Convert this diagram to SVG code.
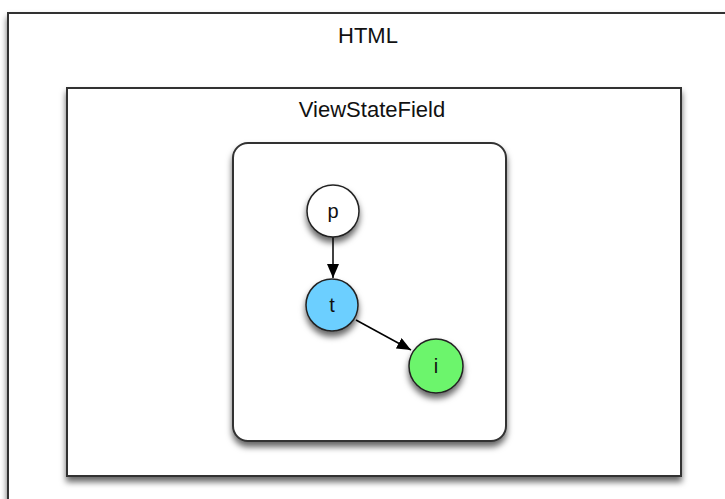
<svg xmlns="http://www.w3.org/2000/svg" width="725" height="499" viewBox="0 0 725 499">
<defs>
<filter id="sh" x="-20%" y="-20%" width="140%" height="150%">
<feDropShadow dx="0" dy="5" stdDeviation="3" flood-color="#000" flood-opacity="0.6"/>
</filter>
<marker id="ah" viewBox="0 0 14 12" refX="14" refY="6" markerWidth="14" markerHeight="12" markerUnits="userSpaceOnUse" orient="auto">
<path d="M0,0 L14,6 L0,12 z" fill="#000"/>
</marker>
</defs>
<style>
.box{fill:#fff;stroke:#333;stroke-width:2}
.lbl{font-family:"Liberation Sans",Arial,sans-serif;fill:#111;text-anchor:middle}
.nl{font-family:"Liberation Sans",Arial,sans-serif;font-size:20px;fill:#111;text-anchor:middle}
.node{stroke:#222;stroke-width:1.5}
.edge{stroke:#000;stroke-width:1.5;fill:none;marker-end:url(#ah)}
</style>
<g id="html">
<rect class="box" x="8" y="13" width="740" height="510" filter="url(#sh)"/>
<text class="lbl" x="368" y="43" font-size="22">HTML</text>
</g>
<g id="viewstatefield">
<rect class="box" x="67" y="88" width="614" height="388" filter="url(#sh)"/>
<text class="lbl" x="372" y="117" font-size="22">ViewStateField</text>
</g>
<g id="container">
<rect class="box" x="233" y="143" width="273" height="298" rx="15" ry="15" filter="url(#sh)"/>
</g>
<g id="connectors">
<line class="edge" x1="333" y1="237" x2="333" y2="278"/>
<line class="edge" x1="356" y1="320" x2="411" y2="350"/>
</g>
<g id="node-p">
<circle class="node" cx="333" cy="211" r="26" fill="#fff" filter="url(#sh)"/>
<text class="nl" x="333" y="218">p</text>
</g>
<g id="node-t">
<circle class="node" cx="332" cy="305" r="26" fill="#6ccfff" filter="url(#sh)"/>
<text class="nl" x="332" y="312">t</text>
</g>
<g id="node-i">
<circle class="node" cx="436" cy="366" r="27" fill="#6cf56c" filter="url(#sh)"/>
<text class="nl" x="436" y="373">i</text>
</g>
</svg>
